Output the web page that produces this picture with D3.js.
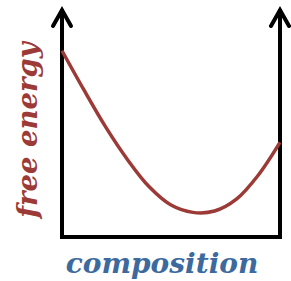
<!DOCTYPE html>
<html>
<head>
<meta charset="utf-8">
<script src="https://cdn.jsdelivr.net/npm/d3@7"></script>
<style>
  body { margin: 0; background: #fff; }
  svg { display: block; }
</style>
</head>
<body>
<div id="chart"></div>
<script>
// composition (0..1) and free energy
var composition = [0, 0.1, 0.2, 0.3, 0.4, 0.5, 0.6, 0.7, 0.8, 0.9, 1.0];
var freeEnergy  = [0.817, 0.646, 0.483, 0.340, 0.220, 0.140, 0.108, 0.114, 0.166, 0.271, 0.415];
var xLabel = "composition";
var yLabel = "free energy";

var W = 291, H = 281;
var margin = {top: 9, right: 11, bottom: 44, left: 62};

var svg = d3.select("#chart").append("svg")
    .attr("width", W)
    .attr("height", H);

var x = d3.scaleLinear().domain([0, 1]).range([margin.left, W - margin.right]);
var y = d3.scaleLinear().domain([0, 1]).range([H - margin.bottom, margin.top]);

var data = composition.map((c, i) => ({x: c, y: freeEnergy[i]}));

// axes: left + right arrows, bottom line
var x0 = x(0), x1 = x(1), yb = y(0), yt = y(1);
var axisG = svg.append("g")
    .attr("stroke", "#000")
    .attr("stroke-width", 4)
    .attr("fill", "none");

axisG.append("path")
    .attr("stroke-linejoin", "miter")
    .attr("d", `M${x0},${yt} L${x0},${yb} L${x1},${yb} L${x1},${yt}`);

[x0, x1].forEach(function(ax){
    axisG.append("path")
        .attr("stroke-linecap", "round")
        .attr("stroke-linejoin", "miter")
        .attr("d", `M${ax - 9},${yt + 17} L${ax},${yt + 1} L${ax + 9},${yt + 17}`);
});

var line = d3.line()
    .x(d => x(d.x))
    .y(d => y(d.y))
    .curve(d3.curveCatmullRom.alpha(0.5));

svg.append("path")
    .datum(data)
    .attr("d", line)
    .attr("fill", "none")
    .attr("stroke", "#9b3a36")
    .attr("stroke-width", 3.5);

svg.append("text")
    .attr("x", 162)
    .attr("y", 273)
    .attr("text-anchor", "middle")
    .attr("font-family", "DejaVu Serif")
    .attr("font-style", "italic")
    .attr("font-weight", "bold")
    .attr("font-size", 28)
    .attr("fill", "#3c6a9e")
    .text(xLabel);

svg.append("text")
    .attr("transform", "translate(37,130) rotate(-90)")
    .attr("text-anchor", "middle")
    .attr("font-family", "DejaVu Serif")
    .attr("font-style", "italic")
    .attr("font-weight", "bold")
    .attr("font-size", 27.5)
    .attr("fill", "#9b3a36")
    .text(yLabel);
</script>
</body>
</html>
